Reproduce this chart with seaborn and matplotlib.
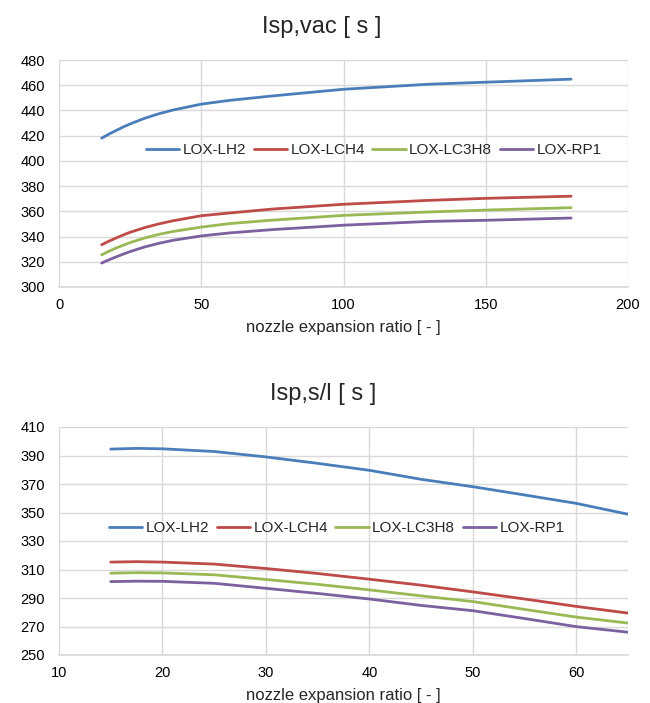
import pandas as pd
import seaborn as sns
import matplotlib.pyplot as plt

# vacuum specific impulse vs. expansion ratio
eps_vac = [15, 17.5, 20, 22.5, 25, 30, 35, 40, 50, 60, 75, 100, 130, 150, 180]
vac_lh2 = [418, 421.2, 424, 426.8, 429.3, 433.7, 437.3, 440.3, 445, 448, 451.5,
           456.8, 460.8, 462.4, 464.8]
vac_lch4 = [333.5, 336.3, 338.8, 341.2, 343.4, 347, 350, 352.5, 356.5, 358.7,
            361.8, 365.6, 368.7, 370.3, 372]
vac_lc3h8 = [325.5, 328.3, 330.8, 333.1, 335.2, 338.8, 341.7, 344, 347.5, 350.3,
             353, 356.8, 359.5, 361, 362.9]
vac_rp1 = [319, 321.5, 323.8, 326, 328.1, 331.7, 334.6, 337, 340.5, 342.9,
           345.5, 349, 352, 352.9, 354.7]

# sea level specific impulse vs. expansion ratio
eps_sl = [15, 17.5, 20, 25, 30, 35, 40, 45, 50, 55, 60, 65]
sl_lh2 = [394.5, 395, 394.7, 392.8, 389, 384.5, 379.6, 373.3, 368.1, 362.3, 356.4, 348.8]
sl_lch4 = [315.2, 315.5, 315.2, 313.8, 310.7, 307.2, 303.2, 299, 294.3, 289.3, 284.1, 279.4]
sl_lc3h8 = [307.4, 307.8, 307.6, 306.3, 303, 299.6, 295.7, 291.5, 287.5, 282, 276.6, 272.4]
sl_rp1 = [301.5, 301.8, 301.7, 300.3, 296.8, 293.2, 289.3, 284.8, 281.1, 275.6, 269.9, 266]

fuels = ["LOX-LH2", "LOX-LCH4", "LOX-LC3H8", "LOX-RP1"]
colors = ["#4A7EBB", "#BE4B48", "#98B954", "#7D60A0"]


def long_form(eps, series):
    frames = []
    for name, vals in zip(fuels, series):
        frames.append(pd.DataFrame({"eps": eps, "isp": vals, "fuel": name}))
    return pd.concat(frames, ignore_index=True)


vac = long_form(eps_vac, [vac_lh2, vac_lch4, vac_lc3h8, vac_rp1])
sl = long_form(eps_sl, [sl_lh2, sl_lch4, sl_lc3h8, sl_rp1])

sns.set_theme(style="whitegrid")
plt.rcParams["font.family"] = ["Liberation Sans", "DejaVu Sans"]

fig = plt.figure(figsize=(6.5, 7.03), dpi=100)
ax1 = fig.add_axes([59 / 650, 1 - 287 / 703, 569 / 650, 227 / 703])
ax2 = fig.add_axes([59 / 650, 1 - 655 / 703, 569 / 650, 228 / 703])


def style(ax, xlim, ylim, xticks, yticks, leg_xy):
    ax.set_xlim(*xlim)
    ax.set_ylim(*ylim)
    ax.set_xticks(xticks)
    ax.set_yticks(yticks)
    ax.grid(True, color="#D9D9D9", linewidth=1)
    for side in ["top", "right", "left"]:
        ax.spines[side].set_visible(False)
    ax.spines["bottom"].set_color("#D9D9D9")
    ax.tick_params(axis="both", length=0, labelsize=10.5, colors="black")
    ax.tick_params(axis="y", pad=10)
    ax.tick_params(axis="x", pad=8)
    ax.set_xlabel("nozzle expansion ratio [ - ]", fontsize=12, labelpad=6)
    ax.set_ylabel("")
    ax.legend(loc="center", bbox_to_anchor=leg_xy, ncol=4, frameon=False,
              fontsize=11, handlelength=2.2, handletextpad=0.2,
              columnspacing=0.5, borderpad=0)


sns.lineplot(data=vac, x="eps", y="isp", hue="fuel", palette=colors,
             linewidth=2, ax=ax1)
style(ax1, (0, 200), (300, 480), range(0, 201, 50), range(300, 481, 20),
      (0.553, 0.6035))

sns.lineplot(data=sl, x="eps", y="isp", hue="fuel", palette=colors,
             linewidth=2, ax=ax2)
style(ax2, (10, 65), (250, 410), range(10, 61, 10), range(250, 411, 20),
      (0.488, 0.557))

fig.text(322 / 650, 1 - 33 / 703, "Isp,vac [ s ]", ha="center", va="baseline",
         fontsize=17)
fig.text(323 / 650, 1 - 400 / 703, "Isp,s/l [ s ]", ha="center", va="baseline",
         fontsize=17)

fig.savefig("out.png", dpi=100, facecolor="white")
